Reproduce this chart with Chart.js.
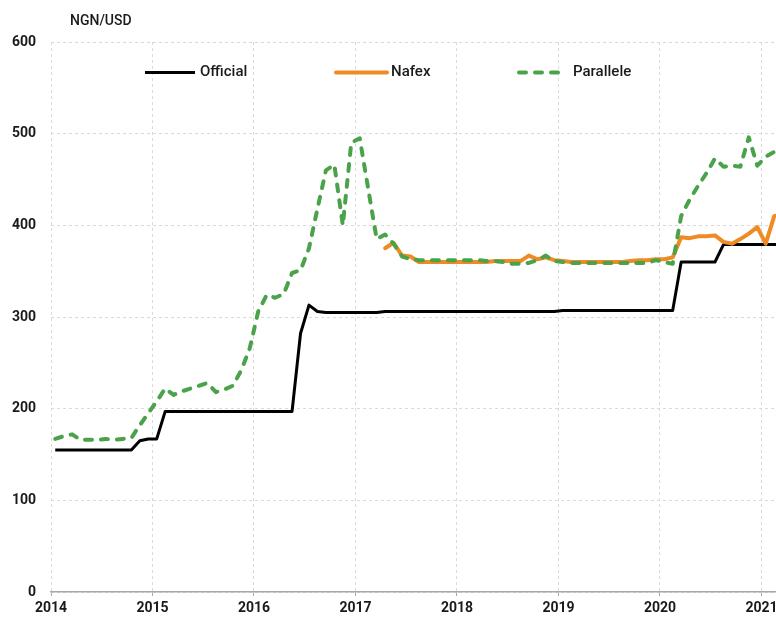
<!DOCTYPE html>
<html>
<head>
<meta charset="utf-8">
<script src="https://cdn.jsdelivr.net/npm/chart.js@4"></script>
<style>
  html, body { margin: 0; padding: 0; background: #fff; overflow: hidden; }
  .wrap { width: 776px; height: 619px; overflow: hidden; position: relative; }
  canvas { display: block; }
</style>
</head>
<body>
<div class="wrap"><canvas id="chart" width="820" height="619"></canvas></div>
<script>
// monthly values, Jan 2014 .. Mar 2021 (one row per year)
const startYear = 2014;
const unitLabel = "NGN/USD";
const seriesNames = ["Official", "Nafex", "Parallele"];

const official = [
  155, 155, 155, 155, 155, 155, 155, 155, 155, 155, 165, 167,
  167, 197, 197, 197, 197, 197, 197, 197, 197, 197, 197, 197,
  197, 197, 197, 197, 197, 282, 313, 306, 305, 305, 305, 305,
  305, 305, 305, 306, 306, 306, 306, 306, 306, 306, 306, 306,
  306, 306, 306, 306, 306, 306, 306, 306, 306, 306, 306, 306,
  307, 307, 307, 307, 307, 307, 307, 307, 307, 307, 307, 307,
  307, 307, 360, 360, 360, 360, 360, 379, 379, 379, 379, 379,
  379, 379, 379
];

const nafex = [
  null, null, null, null, null, null, null, null, null, null, null, null,
  null, null, null, null, null, null, null, null, null, null, null, null,
  null, null, null, null, null, null, null, null, null, null, null, null,
  null, null, null, 375, 381, 367, 366, 360, 360, 360, 360, 360,
  360, 360, 360, 360, 361, 361, 361, 361, 367, 363, 365, 362,
  361, 360, 360, 360, 360, 360, 360, 360, 361, 362, 362, 363,
  363, 365, 387, 386, 388, 388, 389, 382, 380, 385, 391, 398,
  380, 410, 412
];

const parallele = [
  167, 170, 172, 166, 166, 166, 167, 166, 167, 168, 182, 195,
  208, 222, 215, 219, 222, 225, 228, 218, 221, 225, 242, 266,
  306, 324, 321, 325, 348, 351, 375, 418, 460, 466, 400, 490,
  495, 440, 385, 390, 380, 366, 363, 362, 362, 362, 362, 362,
  362, 362, 362, 361, 361, 360, 358, 358, 359, 362, 367, 361,
  360, 359, 359, 359, 359, 359, 359, 359, 359, 359, 359, 362,
  360, 358, 410, 428, 443, 457, 473, 464, 465, 464, 496, 465,
  475, 480, 482
];

const yTicks = [0, 100, 200, 300, 400, 500, 600];
const xYears = [2014, 2015, 2016, 2017, 2018, 2019, 2020, 2021];

const FONT = "Roboto, 'DejaVu Sans', sans-serif";
const TEXT = "#1a1a1a";

// points sit mid-month
function toPoints(arr) {
  return arr.map((v, i) => ({ x: startYear + (i + 0.5) / 12, y: v }));
}

// title above the plot and legend drawn inside the plot area
const extras = {
  id: "extras",
  afterDraw(chart) {
    const ctx = chart.ctx;
    ctx.save();
    ctx.fillStyle = TEXT;
    ctx.font = "500 14px " + FONT;
    ctx.textBaseline = "middle";
    ctx.textAlign = "left";
    ctx.fillText(unitLabel, 70, 21);

    ctx.font = "500 15px " + FONT;
    const slots = [[145, 195, 200], [336, 387, 391], [517, 567, 573]];
    const y = 72.5;
    seriesNames.forEach((name, k) => {
      const ds = chart.data.datasets.find(d => d.label === name);
      const [x0, x1, tx] = slots[k];
      ctx.beginPath();
      ctx.strokeStyle = ds.borderColor;
      ctx.lineWidth = ds.borderWidth;
      ctx.lineCap = ds.borderCapStyle || "butt";
      ctx.setLineDash(ds.borderDash || []);
      ctx.moveTo(x0 + (ds.borderDash ? 2 : 0), y);
      ctx.lineTo(x1, y);
      ctx.stroke();
      ctx.setLineDash([]);
      ctx.fillStyle = TEXT;
      ctx.fillText(name, tx, y);
    });
    ctx.restore();
  }
};

new Chart(document.getElementById("chart"), {
  type: "line",
  data: {
    datasets: [
      {
        label: "Official",
        data: toPoints(official),
        borderColor: "#000000",
        borderWidth: 3,
        borderJoinStyle: "round",
        pointRadius: 0,
        tension: 0,
        order: 2
      },
      {
        label: "Nafex",
        data: toPoints(nafex),
        borderColor: "#f08a24",
        borderWidth: 4,
        borderJoinStyle: "round",
        borderCapStyle: "round",
        pointRadius: 0,
        tension: 0,
        order: 1
      },
      {
        label: "Parallele",
        data: toPoints(parallele),
        borderColor: "#4aa24a",
        borderWidth: 4,
        borderDash: [7, 9],
        borderCapStyle: "round",
        borderJoinStyle: "round",
        pointRadius: 0,
        tension: 0,
        order: 0
      }
    ]
  },
  options: {
    responsive: false,
    animation: false,
    devicePixelRatio: 1,
    layout: { padding: { top: 42, right: 20, left: 0, bottom: 0 } },
    plugins: {
      legend: { display: false },
      title: { display: false },
      tooltip: { enabled: false }
    },
    scales: {
      x: {
        type: "linear",
        min: xYears[0],
        max: 2014 + (800 - 51) / 101.5,
        afterBuildTicks: (scale) => {
          scale.ticks = xYears.map(v => ({ value: v }));
        },
        afterFit: (scale) => { scale.height = 27; },
        ticks: {
          includeBounds: false,
          autoSkip: false,
          maxRotation: 0,
          padding: 4,
          color: TEXT,
          font: { family: FONT, size: 14, weight: "bold" },
          callback: (v) => String(v)
        },
        grid: {
          color: "#dadada",
          lineWidth: 1,
          drawTicks: true,
          tickLength: 4,
          tickColor: "#a8a8a8",
          tickWidth: 1
        },
        border: { display: true, color: "#a8a8a8", width: 1.5, dash: [3, 3] }
      },
      y: {
        min: 0,
        max: 600,
        afterBuildTicks: (scale) => {
          scale.ticks = yTicks.map(v => ({ value: v }));
        },
        afterFit: (scale) => { scale.width = 51; },
        ticks: {
          padding: 15,
          color: TEXT,
          font: { family: FONT, size: 14, weight: "bold" }
        },
        grid: { color: "#dadada", lineWidth: 1, drawTicks: false },
        border: { display: false, dash: [3, 3] }
      }
    }
  },
  plugins: [extras]
});
</script>
</body>
</html>
